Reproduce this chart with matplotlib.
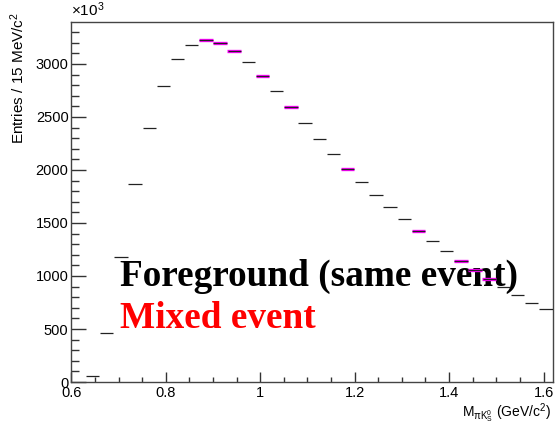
import matplotlib
matplotlib.use("Agg")
import matplotlib.pyplot as plt
import numpy as np

plt.rcParams["font.family"] = ["Liberation Sans", "DejaVu Sans"]
plt.rcParams["mathtext.fontset"] = "custom"
plt.rcParams["mathtext.rm"] = "Liberation Sans"
plt.rcParams["mathtext.it"] = "Liberation Sans"
plt.rcParams["mathtext.default"] = "regular"

# bin layout: 33 bins of 0.03 GeV/c^2 from 0.63 to 1.62
bin_lo = 0.63
bin_w = 0.03
foreground = [61, 463, 1175, 1866, 2399, 2792, 3043, 3178, 3228, 3200, 3121,
              3015, 2886, 2742, 2597, 2443, 2296, 2152, 2013, 1885, 1766, 1653,
              1540, 1429, 1326, 1232, 1137, 1053, 972, 893, 817, 749, 692]
# mixed event only visible where it sticks out from under the foreground
mixed_bins = [8, 9, 10, 12, 14, 18, 23, 26, 27, 28]
mixed = [3228, 3200, 3121, 2886, 2597, 2013, 1429, 1137, 1053, 972]

edges = bin_lo + bin_w * np.arange(len(foreground) + 1)

fig = plt.figure(figsize=(5.55, 4.24), dpi=100)
ax = fig.add_axes([0.1285, 0.099, 0.9964 - 0.1285, 0.948 - 0.099])

ax.hlines(mixed, edges[mixed_bins] + 0.0005, edges[mixed_bins] + bin_w - 0.0005,
          color="#ff00ff", lw=2.4, zorder=3)
ax.hlines(foreground, edges[:-1] + 0.001, edges[1:] - 0.001,
          color="#222222", lw=0.9, zorder=4)

ax.set_xlim(0.6, 1.62)
ax.set_ylim(0, 3395)
ax.set_xticks(np.arange(0.6, 1.61, 0.2))
ax.set_xticklabels(["0.6", "0.8", "1", "1.2", "1.4", "1.6"])
ax.set_xticks(np.arange(0.6, 1.62, 0.05), minor=True)
ax.set_yticks(np.arange(0, 3001, 500))
ax.set_yticks(np.arange(0, 3395, 100), minor=True)
ax.tick_params(axis="both", which="both", direction="in", labelsize=10.5,
               top=False, right=False, color="#333333")
ax.tick_params(axis="y", which="major", length=10.8, width=1, pad=2)
ax.tick_params(axis="y", which="minor", length=5.8, width=1)
ax.tick_params(axis="x", which="major", length=7.2, width=1, pad=3)
ax.tick_params(axis="x", which="minor", length=3.6, width=1)
for s in ax.spines.values():
    s.set_color("#444444")
    s.set_linewidth(1)

fig.text(0.128, 0.962, r"$\times$10$^{3}$", fontsize=11, ha="left", va="baseline")
fig.text(0.031, 0.972, r"Entries / 15 MeV/c$^{2}$", fontsize=11, rotation=90,
         ha="center", va="top")
fig.text(0.993, 0.016, r"M$_{\pi K^{0}_{S}}$ (GeV/c$^{2}$)", fontsize=10,
         ha="right", va="baseline")

ax.text(0.6 + (120 - 71.3) / 472.8, (382.5 - 286) / 0.1062,
        "Foreground (same event)", family="Liberation Serif", weight="bold",
        fontsize=26.8, color="black", ha="left", va="baseline", zorder=2)
ax.text(0.6 + (120 - 71.3) / 472.8, (382.5 - 328) / 0.1062,
        "Mixed event", family="Liberation Serif", weight="bold",
        fontsize=26.8, color="red", ha="left", va="baseline", zorder=2)

fig.savefig("out.png", dpi=100)
